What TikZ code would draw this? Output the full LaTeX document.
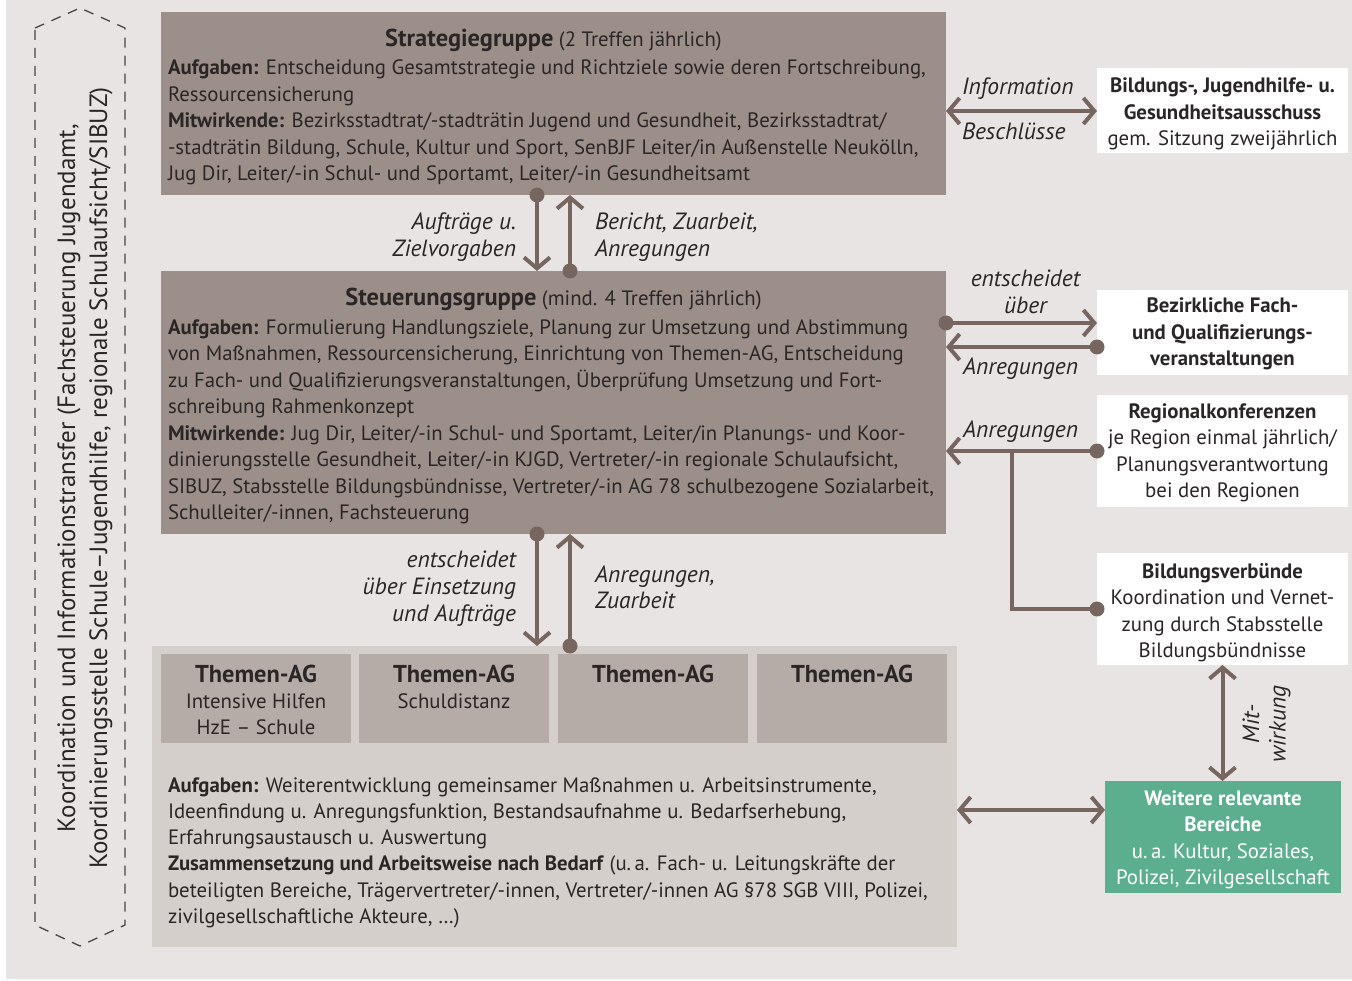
\documentclass[tikz,border=0pt]{standalone}
\usepackage{fontspec}
\setmainfont{PT Sans}
\usetikzlibrary{arrows.meta}
\definecolor{bgc}{HTML}{E8E4E3}
\definecolor{darkc}{HTML}{9C8F8A}
\definecolor{contc}{HTML}{D5CFCC}
\definecolor{agc}{HTML}{B6ACA7}
\definecolor{greenc}{HTML}{5BAF8F}
\definecolor{arrowc}{HTML}{76665F}
\definecolor{txtc}{HTML}{2B2626}
\definecolor{dashc}{HTML}{4A4545}
\newcommand{\bodyfont}{\fontsize{20.8}{26.5}\selectfont}
\newcommand{\lblfont}{\fontsize{23.5}{26.5}\selectfont\itshape}
\newcommand{\headfont}{\fontsize{24.4}{26.5}\selectfont\bfseries}
\begin{document}
\begin{tikzpicture}[x=1pt,y=-1pt,
  every node/.style={inner sep=0pt, outer sep=0pt, text=txtc},
  boxbase/.style={rectangle, draw=none, inner sep=0pt},
  darkbox/.style={boxbase, fill=darkc},
  contbox/.style={boxbase, fill=contc},
  agbox/.style={boxbase, fill=agc},
  whitebox/.style={boxbase, fill=white},
  greenbox/.style={boxbase, fill=greenc},
  bodytext/.style={font=\bodyfont, align=left, anchor=north west},
  centertext/.style={font=\bodyfont, align=center, anchor=north},
  lblleft/.style={font=\lblfont, align=left, anchor=north west},
  lblright/.style={font=\lblfont, align=right, anchor=north east},
  lblcenter/.style={font=\lblfont, align=center, anchor=north},
  lblbase/.style={font=\lblfont, anchor=base west},
  headtext/.style={anchor=base, font=\bodyfont},
  conn/.style={draw=arrowc, line width=4pt},
  onearrow/.style={conn, -{Straight Barb[length=11pt,width=26pt]}},
  twoarrow/.style={conn, {Straight Barb[length=11pt,width=26pt]}-{Straight Barb[length=11pt,width=26pt]}},
  dotc/.style={fill=arrowc}
]
\useasboundingbox (0,0) rectangle (1352,981);
\fill[white] (0,0) rectangle (1352,981);
\fill[bgc] (6,0) rectangle (1352,979);

% dashed side frame
\draw[dashc, line width=1.3pt, dash pattern=on 10pt off 8pt]
  (35,28) -- (80,8) -- (125,28) -- (125,925) -- (80,946) -- (35,925) -- cycle;
\node[rotate=90, anchor=north, align=center, font=\fontsize{25}{32}\selectfont] (side) at (52.6,478)
  {\strut Koordination und Informationstransfer (Fachsteuerung Jugendamt,\\
   Koordinierungsstelle Schule–Jugendhilfe, regionale Schulaufsicht/SIBUZ)};

% boxes
\node[darkbox, minimum width=785pt, minimum height=183pt] (strat) at (553.5,103.5) {};
\node[darkbox, minimum width=785pt, minimum height=263pt] (steuer) at (553.5,402.5) {};
\node[contbox, minimum width=805pt, minimum height=301pt] (themen) at (554.5,796.5) {};
\node[agbox, minimum width=190pt, minimum height=89pt] (ag1) at (256,698.5) {};
\node[agbox, minimum width=190pt, minimum height=89pt] (ag2) at (454,698.5) {};
\node[agbox, minimum width=190pt, minimum height=89pt] (ag3) at (653,698.5) {};
\node[agbox, minimum width=190pt, minimum height=89pt] (ag4) at (852,698.5) {};
\node[whitebox, minimum width=251pt, minimum height=85pt] (aus) at (1222.5,110.5) {};
\node[whitebox, minimum width=251pt, minimum height=85pt] (bez) at (1222.5,332.5) {};
\node[whitebox, minimum width=251pt, minimum height=112pt] (reg) at (1222.5,451) {};
\node[whitebox, minimum width=251pt, minimum height=112pt] (verb) at (1222.5,609) {};
\node[greenbox, minimum width=236pt, minimum height=112pt] (weit) at (1223,837) {};

% strat text
\node[headtext] (strattitle) at (553.5,47) {{\headfont Strategiegruppe} (2 Treffen jährlich)};
\node[bodytext] (stratbody) at (168,56.45) {\strut\textbf{Aufgaben:} Entscheidung Gesamtstrategie und Richtziele sowie deren Fortschreibung,\\
Ressourcensicherung\\
\textbf{Mitwirkende:} Bezirksstadtrat/-stadträtin Jugend und Gesundheit, Bezirksstadtrat/\\
-stadträtin Bildung, Schule, Kultur und Sport, SenBJF Leiter/in Außenstelle Neukölln,\\
Jug Dir, Leiter/-in Schul- und Sportamt, Leiter/-in Gesundheitsamt};

% steuer text
\node[headtext] (steuertitle) at (553.5,306) {{\headfont Steuerungsgruppe} (mind. 4 Treffen jährlich)};
\node[bodytext] (steuerbody) at (168,315.45) {\strut\textbf{Aufgaben:} Formulierung Handlungsziele, Planung zur Umsetzung und Abstimmung\\
von Maßnahmen, Ressourcensicherung, Einrichtung von Themen-AG, Entscheidung\\
zu Fach- und Qualifizierungsveranstaltungen, Überprüfung Umsetzung und Fort-\\
schreibung Rahmenkonzept\\
\textbf{Mitwirkende:} Jug Dir, Leiter/-in Schul- und Sportamt, Leiter/in Planungs- und Koor-\\
dinierungsstelle Gesundheit, Leiter/-in KJGD, Vertreter/-in regionale Schulaufsicht,\\
SIBUZ, Stabsstelle Bildungsbündnisse, Vertreter/-in AG 78 schulbezogene Sozialarbeit,\\
Schulleiter/-innen, Fachsteuerung};

% themen-ag titles
\node[headtext, font=\headfont] (ag1t) at (ag1.north |- 0,682) {Themen-AG};
\node[headtext, font=\headfont] (ag2t) at (ag2.north |- 0,682) {Themen-AG};
\node[headtext, font=\headfont] (ag3t) at (ag3.north |- 0,682) {Themen-AG};
\node[headtext, font=\headfont] (ag4t) at (ag4.north |- 0,682) {Themen-AG};
\node[centertext] (ag1s) at (ag1.north |- 0,689.45) {\strut Intensive Hilfen\\HzE – Schule};
\node[centertext] (ag2s) at (ag2.north |- 0,689.45) {\strut Schuldistanz};

% bottom text
\node[bodytext, font=\fontsize{20.8}{26.3}\selectfont] (thembody) at (168,773.6) {\strut\textbf{Aufgaben:} Weiterentwicklung gemeinsamer Maßnahmen u. Arbeitsinstrumente,\\
Ideenfindung u. Anregungsfunktion, Bestandsaufnahme u. Bedarfserhebung,\\
Erfahrungsaustausch u. Auswertung\\
\textbf{Zusammensetzung und Arbeitsweise nach Bedarf} (u.\,a. Fach- u. Leitungskräfte der\\
beteiligten Bereiche, Trägervertreter/-innen, Vertreter/-innen AG §78 SGB VIII, Polizei,\\
zivilgesellschaftliche Akteure, …)};

% right boxes text
\node[centertext] (aust) at (1222.5,74.45) {\strut\textbf{Bildungs-, Jugendhilfe- u.}\\\textbf{Gesundheitsausschuss}\\gem. Sitzung zweijährlich};
\node[centertext, font=\bodyfont\bfseries] (bezt) at (1222.5,294.45) {\strut Bezirkliche Fach-\\und Qualifizierungs-\\veranstaltungen};
\node[centertext] (regt) at (1222.5,399.45) {\strut\textbf{Regionalkonferenzen}\\je Region einmal jährlich/\\Planungsverantwortung\\bei den Regionen};
\node[centertext] (verbt) at (1222.5,559.45) {\strut\textbf{Bildungsverbünde}\\Koordination und Vernet-\\zung durch Stabsstelle\\Bildungsbündnisse};
\node[centertext, text=white] (weitt) at (1223,786.45) {\strut\textbf{Weitere relevante}\\\textbf{Bereiche}\\u.\,a. Kultur, Soziales,\\Polizei, Zivilgesellschaft};

% coordinates for connectors
\coordinate (xl) at (537,0);
\coordinate (xr) at (570,0);
\coordinate (ya) at (0,111);
\coordinate (yb) at (0,323);
\coordinate (yc) at (0,347);
\coordinate (yd) at (0,810);
\coordinate (br) at (1012,451);

% vertical connectors
\draw[onearrow] (strat.south -| xl) -- (steuer.north -| xl);
\fill[dotc] (strat.south -| xl) circle[radius=7.5];
\draw[onearrow] (steuer.north -| xr) -- (strat.south -| xr);
\fill[dotc] (steuer.north -| xr) circle[radius=7.5];
\draw[onearrow] (steuer.south -| xl) -- (themen.north -| xl);
\fill[dotc] (steuer.south -| xl) circle[radius=7.5];
\draw[onearrow] (themen.north -| xr) -- (steuer.south -| xr);
\fill[dotc] (themen.north -| xr) circle[radius=7.5];

% right connectors
\draw[twoarrow] (strat.east |- ya) -- (aus.west |- ya);
\draw[onearrow] (steuer.east |- yb) -- (bez.west |- yb);
\fill[dotc] (steuer.east |- yb) circle[radius=7.5];
\draw[onearrow] (bez.west |- yc) -- (steuer.east |- yc);
\fill[dotc] (bez.west |- yc) circle[radius=7.5];
\draw[onearrow] (reg.west) -- (reg.west -| steuer.east);
\fill[dotc] (reg.west) circle[radius=7.5];
\draw[conn] (verb.west) -| (br);
\fill[dotc] (verb.west) circle[radius=7.5];
\draw[twoarrow] (verb.south) -- (verb.south |- weit.north);
\draw[twoarrow] (themen.east |- yd) -- (weit.west |- yd);

% connector labels
\node[lblright] (l1) at (516,211.45) {\strut Aufträge u.\\Zielvorgaben};
\node[lblleft] (l2) at (595,211.45) {\strut Bericht, Zuarbeit,\\Anregungen};
\node[lblright, font=\fontsize{23.5}{27}\selectfont\itshape] (l3) at (516,548.1) {\strut entscheidet\\über Einsetzung\\und Aufträge};
\node[lblleft] (l4) at (595,563.45) {\strut Anregungen,\\Zuarbeit};
\node[lblbase] (l5) at (962,95) {Information};
\node[lblbase] (l6) at (962,140) {Beschlüsse};
\node[lblcenter] (l7) at (1025.5,268.45) {\strut entscheidet\\über};
\node[lblbase] (l8) at (963,375) {Anregungen};
\node[lblbase] (l9) at (963,437) {Anregungen};
\node[rotate=90, anchor=north, align=center, font=\lblfont] (l10) at (1240.5,724) {\strut Mit-\\wirkung};
\end{tikzpicture}
\end{document}
